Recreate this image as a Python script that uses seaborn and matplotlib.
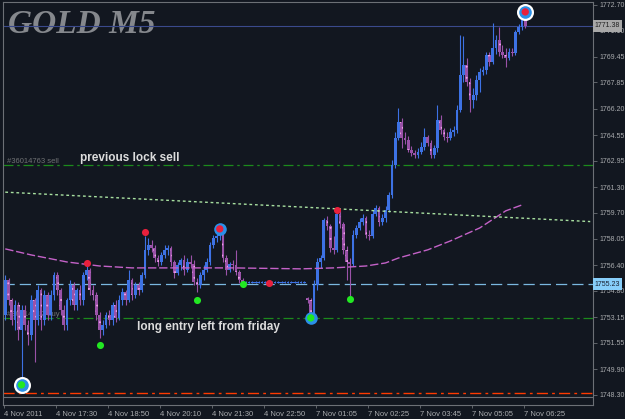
#!/usr/bin/env python3
"""
GOLD M5 -- grafico de velas estilo MT4 (4-7 Nov 2011), com linhas de ordens,
media movel, linha de tendencia e sinais de compra/venda.
Gera out.png (~625x419).
"""

import numpy as np
import pandas as pd
import matplotlib
matplotlib.use("Agg")
import matplotlib.pyplot as plt
import matplotlib.transforms as mtransforms
import seaborn as sns

# --------------------------------------------------------------------------- #
# Dados (barras de 5 minutos)
# --------------------------------------------------------------------------- #
opens = [
    1753.30, 1755.49, 1754.24, 1752.98, 1753.92, 1752.36, 1753.61, 1752.67, 1752.05, 1754.24,
    1752.98, 1754.86, 1752.98, 1754.55, 1753.30, 1754.55, 1755.80, 1754.86, 1753.61, 1752.67,
    1754.24, 1755.17, 1753.92, 1754.86, 1754.24, 1755.80, 1756.11, 1754.86, 1754.55, 1753.30,
    1752.36, 1752.67, 1753.30, 1752.98, 1753.92, 1753.11, 1754.24, 1754.74, 1754.24, 1755.49,
    1754.55, 1755.17, 1754.86, 1755.80, 1757.37, 1757.68, 1757.49, 1756.86, 1756.61, 1757.05,
    1757.37, 1757.49, 1756.61, 1755.93, 1756.43, 1756.74, 1756.11, 1756.61, 1756.49, 1755.36,
    1755.17, 1755.80, 1756.11, 1756.61, 1757.68, 1758.12, 1758.24, 1758.49, 1756.86, 1756.11,
    1756.49, 1756.43, 1755.99, 1755.49, 1755.30, 1755.30, 1755.30, 1755.30, 1755.30, 1755.30,
    1755.30, 1755.30, 1755.30, 1755.30, 1755.30, 1755.30, 1755.30, 1755.30, 1755.30, 1755.30,
    1755.30, 1755.30, 1755.30, 1754.36, 1754.24, 1753.11, 1755.17, 1756.61, 1756.86, 1759.24,
    1758.87, 1757.49, 1757.37, 1759.62, 1758.99, 1757.37, 1756.61, 1756.49, 1758.30, 1758.74,
    1759.12, 1759.37, 1758.30, 1758.24, 1759.62, 1759.99, 1759.12, 1759.37, 1759.87, 1760.81,
    1762.68, 1764.37, 1765.38, 1764.37, 1764.25, 1763.62, 1763.44, 1763.31, 1763.50, 1763.81,
    1764.44, 1764.06, 1763.31, 1763.75, 1765.50, 1764.87, 1764.44, 1764.37, 1764.75, 1764.87,
    1766.13, 1768.32, 1768.94, 1767.88, 1766.75, 1767.07, 1768.00, 1768.50, 1768.63, 1769.57,
    1769.13, 1770.01, 1770.51, 1769.76, 1769.57, 1769.38, 1769.76, 1769.69, 1771.01, 1771.32,
    1771.76,
]
highs = [
    1755.80, 1755.61, 1754.36, 1754.24, 1754.11, 1753.92, 1753.92, 1752.98, 1754.55, 1754.36,
    1755.17, 1754.99, 1754.86, 1754.74, 1754.86, 1755.99, 1755.99, 1754.99, 1753.92, 1754.36,
    1755.49, 1755.36, 1754.99, 1755.17, 1755.99, 1756.43, 1756.24, 1755.17, 1754.74, 1753.49,
    1752.98, 1753.49, 1753.61, 1754.11, 1754.24, 1754.55, 1754.99, 1754.86, 1756.11, 1755.61,
    1755.36, 1755.36, 1755.99, 1758.24, 1758.12, 1757.99, 1757.68, 1757.05, 1757.24, 1757.68,
    1757.68, 1757.62, 1756.74, 1756.61, 1756.86, 1757.05, 1756.86, 1757.05, 1756.74, 1755.61,
    1755.99, 1756.43, 1756.86, 1757.87, 1758.30, 1758.49, 1758.68, 1758.62, 1757.05, 1756.61,
    1756.74, 1757.37, 1756.11, 1755.61, 1755.40, 1755.40, 1755.40, 1755.40, 1755.40, 1755.40,
    1755.40, 1755.40, 1755.40, 1755.40, 1755.40, 1755.40, 1755.40, 1755.40, 1755.40, 1755.40,
    1755.40, 1755.40, 1755.40, 1754.42, 1754.36, 1755.49, 1756.86, 1757.05, 1759.37, 1759.49,
    1758.99, 1758.24, 1759.81, 1759.87, 1759.12, 1757.62, 1756.86, 1758.62, 1758.93, 1759.37,
    1759.62, 1759.49, 1758.62, 1759.87, 1760.18, 1760.12, 1759.62, 1760.12, 1761.00, 1763.00,
    1764.75, 1766.25, 1765.63, 1764.75, 1764.50, 1763.87, 1763.62, 1763.75, 1764.12, 1765.00,
    1764.56, 1764.25, 1763.94, 1766.44, 1765.81, 1765.00, 1764.75, 1765.00, 1765.12, 1766.44,
    1770.82, 1770.76, 1769.38, 1768.13, 1767.50, 1768.32, 1768.75, 1768.88, 1769.76, 1769.76,
    1771.57, 1770.82, 1771.32, 1770.19, 1770.01, 1770.01, 1770.01, 1771.13, 1771.51, 1771.95,
    1772.13,
]
lows = [
    1752.98, 1753.92, 1752.67, 1752.36, 1751.73, 1749.04, 1752.36, 1751.42, 1751.73, 1750.36,
    1752.67, 1752.36, 1752.67, 1752.98, 1752.98, 1754.24, 1754.55, 1753.30, 1752.36, 1752.36,
    1753.92, 1753.61, 1753.61, 1753.92, 1753.92, 1755.49, 1754.55, 1754.24, 1752.98, 1751.86,
    1752.05, 1752.48, 1752.67, 1752.67, 1752.86, 1752.98, 1753.92, 1753.92, 1754.11, 1754.24,
    1754.36, 1754.55, 1754.74, 1755.61, 1757.05, 1757.24, 1756.61, 1756.36, 1756.43, 1756.86,
    1757.05, 1756.36, 1755.61, 1755.80, 1756.11, 1755.80, 1755.99, 1756.24, 1755.17, 1754.74,
    1754.99, 1755.49, 1755.99, 1756.43, 1757.49, 1757.87, 1757.99, 1756.61, 1755.80, 1755.99,
    1756.11, 1755.80, 1755.30, 1755.17, 1755.27, 1755.27, 1755.27, 1755.27, 1755.27, 1755.27,
    1755.27, 1755.27, 1755.27, 1755.27, 1755.27, 1755.27, 1755.27, 1755.27, 1755.27, 1755.27,
    1755.27, 1755.27, 1755.27, 1754.05, 1752.86, 1752.98, 1754.86, 1756.24, 1756.74, 1758.62,
    1757.24, 1757.12, 1757.24, 1758.74, 1757.12, 1755.49, 1754.49, 1756.36, 1758.12, 1758.62,
    1758.93, 1758.12, 1757.99, 1758.12, 1759.49, 1758.87, 1758.93, 1759.12, 1759.74, 1760.62,
    1762.50, 1764.25, 1763.75, 1764.00, 1763.50, 1763.25, 1763.12, 1763.12, 1763.37, 1763.62,
    1763.87, 1763.12, 1763.12, 1763.50, 1764.62, 1764.25, 1764.12, 1764.25, 1764.50, 1764.69,
    1766.00, 1767.88, 1767.63, 1766.00, 1766.25, 1766.75, 1767.25, 1768.32, 1768.38, 1768.88,
    1769.01, 1769.63, 1769.51, 1769.38, 1768.82, 1769.26, 1769.51, 1769.57, 1770.88, 1771.13,
    1771.26,
]
closes = [
    1755.49, 1754.24, 1752.98, 1753.92, 1752.36, 1753.61, 1752.67, 1752.05, 1754.24, 1752.98,
    1754.86, 1752.98, 1754.55, 1753.30, 1754.55, 1755.80, 1754.86, 1753.61, 1752.67, 1754.24,
    1755.17, 1753.92, 1754.86, 1754.24, 1755.80, 1756.11, 1754.86, 1754.55, 1753.30, 1752.36,
    1752.67, 1753.30, 1752.98, 1753.92, 1753.11, 1754.24, 1754.74, 1754.24, 1755.49, 1754.55,
    1755.17, 1754.86, 1755.80, 1757.37, 1757.68, 1757.49, 1756.86, 1756.61, 1757.05, 1757.37,
    1757.49, 1756.61, 1755.93, 1756.43, 1756.74, 1756.11, 1756.61, 1756.49, 1755.36, 1755.17,
    1755.80, 1756.11, 1756.61, 1757.68, 1758.12, 1758.24, 1758.49, 1756.86, 1756.11, 1756.49,
    1756.43, 1755.99, 1755.49, 1755.30, 1755.36, 1755.36, 1755.36, 1755.36, 1755.36, 1755.36,
    1755.36, 1755.36, 1755.36, 1755.36, 1755.36, 1755.36, 1755.36, 1755.36, 1755.36, 1755.36,
    1755.36, 1755.36, 1755.36, 1754.24, 1753.11, 1755.17, 1756.61, 1756.86, 1759.24, 1758.87,
    1757.49, 1757.37, 1759.62, 1758.99, 1757.37, 1756.61, 1756.49, 1758.30, 1758.74, 1759.12,
    1759.37, 1758.30, 1758.24, 1759.62, 1759.99, 1759.12, 1759.37, 1759.87, 1760.81, 1762.68,
    1764.37, 1765.38, 1764.37, 1764.25, 1763.62, 1763.44, 1763.31, 1763.50, 1763.81, 1764.44,
    1764.06, 1763.31, 1763.75, 1765.50, 1764.87, 1764.44, 1764.37, 1764.75, 1764.87, 1766.13,
    1768.32, 1768.94, 1767.88, 1766.75, 1767.07, 1768.00, 1768.50, 1768.63, 1769.57, 1769.13,
    1770.01, 1770.51, 1769.76, 1769.57, 1769.38, 1769.76, 1769.69, 1771.01, 1771.32, 1771.76,
    1771.38,
]

# media movel (amostrada) e linha de tendencia
ma_bars = [0, 8, 19, 29, 39, 55, 70, 91, 101, 111, 117, 121, 130, 137, 146, 154, 159]
ma_values = [1757.43, 1757.05, 1756.61, 1756.36, 1756.24, 1756.24, 1756.24, 1756.18, 1756.24,
             1756.36, 1756.55, 1756.86, 1757.37, 1757.93, 1758.74, 1759.81, 1760.18]
trend_bars = [0, 180]
trend_prices = [1760.98, 1759.14]

# sinais
sell_bars = [25, 43, 81, 102]
sell_prices = [1756.55, 1758.49, 1755.30, 1759.87]
buy_bars = [29, 59, 73, 106]
buy_prices = [1751.42, 1754.24, 1755.24, 1754.30]
ring_bars = [66, 94]
ring_prices = [1758.68, 1753.11]
ring_inner = ["sell", "buy"]
big_ring_bars = [5, 160]
big_ring_prices = [1748.92, 1772.26]
big_ring_inner = ["buy", "sell"]

# niveis horizontais
sell_order_level = 1762.68
buy_order_level = 1753.10
bid_level = 1755.23
stop_level = 1748.44
last_price = 1771.38

price_ticks = [1772.70, 1771.10, 1769.45, 1767.85, 1766.20, 1764.55, 1762.95, 1761.30,
               1759.70, 1758.05, 1756.40, 1754.80, 1753.15, 1751.55, 1749.90, 1748.30]
time_ticks = [0, 16, 32, 48, 64, 80, 96, 112, 128, 144, 160]
time_labels = ["4 Nov 2011", "4 Nov 17:30", "4 Nov 18:50", "4 Nov 20:10", "4 Nov 21:30",
               "4 Nov 22:50", "7 Nov 01:05", "7 Nov 02:25", "7 Nov 03:45", "7 Nov 05:05",
               "7 Nov 06:25"]

BG = "#121720"
FRAME = "#6c7076"
TXT = "#a9abae"
BULL = "#3d72e4"
BEAR = "#9a52a8"
BEAR_DOTS = "#f0a0e8"
RED = "#e8203c"
GREEN = "#22e822"
RING = "#2a90e8"


def main():
    sns.set_theme(style="dark", rc={
        "axes.facecolor": BG, "figure.facecolor": BG,
        "axes.edgecolor": FRAME, "axes.linewidth": 0.8,
    })
    plt.rcParams["font.family"] = ["Liberation Sans", "DejaVu Sans"]
    plt.rcParams["hatch.linewidth"] = 0.6

    df = pd.DataFrame({"bar": np.arange(len(closes)), "open": opens, "high": highs,
                       "low": lows, "close": closes})
    up = df["close"] >= df["open"]

    fig = plt.figure(figsize=(6.25, 4.19), dpi=100)
    ax = fig.add_axes([3 / 625, 1 - 405 / 419, 590 / 625, 403 / 419])
    ax.set_xlim(-0.7, 180.85)
    ax.set_ylim(1747.66, 1772.88)

    # titulo do simbolo (por baixo da linha de preco)
    ax.text(8 / 625, 1 - 33 / 419, "GOLD M5", transform=fig.transFigure,
            family=["Liberation Serif", "DejaVu Serif"], weight="bold", style="italic",
            fontsize=24, color="#85888d", va="baseline", ha="left", zorder=0.5)

    # niveis horizontais
    ax.axhline(last_price, color="#3a4a8c", lw=0.8, zorder=1)
    ax.axhline(sell_order_level, color="#1c8a1c", lw=0.9, ls=(0, (8, 3, 2, 3)), zorder=1)
    ax.axhline(buy_order_level, color="#1c8a1c", lw=0.9, ls=(0, (8, 3, 2, 3)), zorder=1)
    ax.axhline(bid_level, color="#7ab8e0", lw=0.9, ls=(0, (9, 4)), zorder=1)
    ax.axhline(stop_level, color="#ff3a00", lw=1.0, ls=(0, (8, 3, 2, 3)), zorder=1)
    ax.axhline(1748.17, color=FRAME, lw=0.8, zorder=1)

    ax.text(0.5, sell_order_level + 0.1, "#36014763 sell", fontsize=5.5, color="#707274",
            va="baseline", ha="left", zorder=1)
    ax.text(0.5, buy_order_level + 0.1, "#36014312 buy", fontsize=5.5, color="#707274",
            va="baseline", ha="left", zorder=1)

    # velas
    colors = np.where(up, BULL, BEAR)
    ax.vlines(df["bar"], df["low"], df["high"], colors=colors, lw=0.8, zorder=3)
    body_low = df[["open", "close"]].min(axis=1)
    body_h = (df["close"] - df["open"]).abs().clip(lower=0.04)
    ax.bar(df["bar"][up], body_h[up], bottom=body_low[up], width=0.8,
           color=BULL, linewidth=0, zorder=3)
    ax.bar(df["bar"][~up], body_h[~up], bottom=body_low[~up], width=0.8,
           facecolor=BEAR, edgecolor=BEAR_DOTS, hatch="...", linewidth=0, zorder=3)

    # media movel e tendencia
    sns.lineplot(x=ma_bars, y=ma_values, ax=ax, color="#c462c8", lw=1.0,
                 linestyle=(0, (6, 2)), zorder=4)
    sns.lineplot(x=trend_bars, y=trend_prices, ax=ax, color="#a8e0a0", lw=1.0,
                 linestyle=(0, (2, 2)), zorder=4)

    # sinais
    sns.scatterplot(x=sell_bars, y=sell_prices, ax=ax, color=RED, s=26,
                    linewidth=0, zorder=6)
    sns.scatterplot(x=buy_bars, y=buy_prices, ax=ax, color=GREEN, s=26,
                    linewidth=0, zorder=6)
    sns.scatterplot(x=big_ring_bars, y=big_ring_prices, ax=ax, color="white", s=150,
                    linewidth=0, zorder=6)
    sns.scatterplot(x=big_ring_bars + ring_bars, y=big_ring_prices + ring_prices, ax=ax,
                    color=RING, s=82, linewidth=0, zorder=6)
    inner_kind = big_ring_inner + ring_inner
    inner_colors = [RED if k == "sell" else GREEN for k in inner_kind]
    ax.scatter(big_ring_bars + ring_bars, big_ring_prices + ring_prices, c=inner_colors,
               s=28, linewidths=0, zorder=7)

    # anotacoes
    ax.text(23, 1762.93, "previous lock sell", fontsize=8.5, weight="bold",
            color="#dcdcdc", va="baseline", ha="left", zorder=8)
    ax.text(40.5, 1752.33, "long entry left from friday", fontsize=8.5, weight="bold",
            color="#dcdcdc", va="baseline", ha="left", zorder=8)

    # eixos
    ax.yaxis.tick_right()
    ax.set_yticks(price_ticks)
    ax.set_yticklabels([f"{v:.2f}" for v in price_ticks])
    ax.set_xticks([t - 0.5 for t in time_ticks])
    ax.set_xticklabels(time_labels, ha="left")
    ax.tick_params(axis="y", which="both", right=True, left=False, direction="out",
                   length=3, width=0.6, color=FRAME, labelsize=5, labelcolor=TXT, pad=1.5)
    ax.tick_params(axis="x", which="both", bottom=True, direction="out", length=2,
                   width=0.6, color=FRAME, labelsize=5.5, labelcolor=TXT, pad=2)
    for lbl in ax.get_xticklabels():
        lbl.set_horizontalalignment("left")
    ax.set_xlabel("")
    ax.set_ylabel("")
    ax.grid(False)
    for sp in ax.spines.values():
        sp.set_color(FRAME)
        sp.set_linewidth(0.8)

    # caixas de preco no eixo
    trans = mtransforms.blended_transform_factory(ax.transAxes, ax.transData)
    ax.text(1.003, last_price, f"{last_price:.2f}", transform=trans, fontsize=5,
            color="#202020", va="center", ha="left", clip_on=False, zorder=10,
            bbox=dict(boxstyle="square,pad=0.3", fc="#a8a8a8", ec="none"))
    ax.text(1.003, bid_level, f"{bid_level:.2f}", transform=trans, fontsize=5,
            color="#1a2030", va="center", ha="left", clip_on=False, zorder=10,
            bbox=dict(boxstyle="square,pad=0.3", fc="#87cefa", ec="none"))

    fig.savefig("out.png", dpi=100, facecolor=BG)
    plt.close(fig)


if __name__ == "__main__":
    main()
